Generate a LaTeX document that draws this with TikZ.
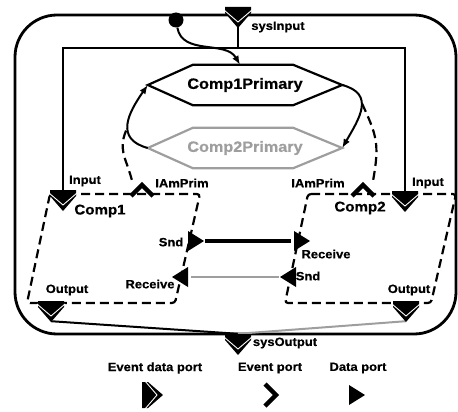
\documentclass[tikz,border=0pt]{standalone}
\usepackage{fontspec}
\setmainfont{Liberation Sans}[FakeStretch=1.08, BoldFeatures={FakeBold=0.6}]
\usetikzlibrary{calc}
\usetikzlibrary{arrows.meta}
\usetikzlibrary{positioning}
\colorlet{grayline}{black!38}

\begin{document}
\begin{tikzpicture}[
  x=1pt, y=-1pt,
  lbl/.style={font=\fontsize{12}{13}\selectfont\bfseries, inner sep=0},
  port/.style={inner sep=0, minimum width=20pt, minimum height=20pt},
  compbox/.style={draw, line width=2.2pt, dash pattern=on 9pt off 5pt, rounded corners=3pt},
  evconn/.style={line width=2.2pt, dash pattern=on 9pt off 5pt},
  trans/.style={line width=2pt, -{Latex[length=9pt,width=7pt]}},
  modestate/.style={minimum width=194pt, minimum height=40pt, inner sep=0,
    font=\fontsize{15}{16}\selectfont\bfseries},
  edport/.pic={
    \fill (-10,-13) -- (-4,-13) -- (11,0) -- (-4,13) -- (-10,13) -- cycle;
    \draw[white, line width=0.9pt] (-7,-14) -- (5,0) -- (-7,14);},
  evport/.pic={\draw[line width=4.5pt, miter limit=10] (-6,-11) -- (5,0) -- (-6,11);},
  dport/.pic={\fill (-7,-10) -- (9,0) -- (-7,10) -- cycle;}]
  \useasboundingbox (0,0) rectangle (458,412);
  % draw system box
  \node[draw, line width=2.8pt, rounded corners=42pt, minimum width=441pt, minimum height=319pt] (sys) at (235.5,174.5) {};
  % draw mode states
  \node[modestate] (c1p) at (245,85) {Comp1Primary};
  \node[modestate, text=grayline] (c2p) at (245,148) {Comp2Primary};
  \foreach \s/\c in {c1p/black, c2p/grayline}
    \draw[line width=2.2pt, \c] (\s.west) -- ([xshift=45pt]\s.north west) -- ([xshift=-49pt]\s.north east)
      -- (\s.east) -- ([xshift=-49pt]\s.south east) -- ([xshift=45pt]\s.south west) -- cycle;
  % draw components
  \draw[compbox] (50,194) -- (200,194) -- (175,303) -- (27,303) -- cycle;
  \draw[compbox] (308,194) -- (456,194) -- (431,303) -- (285,303) -- cycle;
  \node[font=\fontsize{14}{15}\selectfont\bfseries, inner sep=0] (comp1) at (100,211) {Comp1};
  \node[font=\fontsize{14}{15}\selectfont\bfseries, inner sep=0] (comp2) at (360,208) {Comp2};
  % port nodes
  \node[port] (sysin) at (238,17) {};
  \node[port] (sysout) at (238,344) {};
  \node[port] (c1in) at (63,200) {};
  \node[port] (c2in) at (405,201) {};
  \node[port] (c1iam) at (142,190) {};
  \node[port] (c2iam) at (363,190) {};
  \node[port] (c1snd) at (195,241) {};
  \node[port] (c2rcv) at (301,241) {};
  \node[port] (c2snd) at (289,277) {};
  \node[port] (c1rcv) at (181,277) {};
  \node[port] (c1out) at (51,311) {};
  \node[port] (c2out) at (406,311) {};
  % draw bus from system input
  \coordinate (bus) at (0,48);
  \draw[line width=2.2pt] (c1in) -- (c1in |- bus) -- (c2in |- bus) -- (c2in);
  \draw[line width=2.2pt] (sysin) -- (sysin |- bus);
  % draw port connections
  \draw[line width=3.5pt] (c1snd) -- (c2rcv);
  \draw[line width=2.5pt, grayline] (c2snd) -- (c1rcv);
  \draw[line width=2pt] (c1out.south) -- (sysout.north);
  \draw[line width=2pt, grayline] (c2out.south) -- (sysout.north);
  % draw initial transition and mode transitions
  \node[circle, fill, inner sep=0, minimum size=15pt] (init) at (176,20) {};
  \draw[trans] (init) to[out=-80,in=120] ([xshift=-5pt]c1p.north);
  \draw[trans] (c2p.west) to[out=165,in=235,looseness=1.4] node[coordinate,pos=0.45] (t1) {} (c1p.west);
  \draw[trans] (c1p.east) to[out=-15,in=60,looseness=1.4] node[coordinate,pos=0.4] (t2) {} (c2p.east);
  % draw event connections to transitions
  \draw[evconn] (c1iam.north west) to[out=105,in=245,looseness=1.2] (t1);
  \draw[evconn] (c2iam.north east) to[out=80,in=-65,looseness=1.2] (t2);
  % draw ports
  \foreach \p/\r in {sysin/-90, sysout/-90, c1in/-90, c2in/-90, c1out/-90, c2out/-90}
    \pic[rotate=\r] at (\p) {edport};
  \foreach \p in {c1iam, c2iam}
    \pic[rotate=90] at (\p) {evport};
  \foreach \p/\r in {c1snd/0, c2rcv/0, c2snd/180, c1rcv/180}
    \pic[rotate=\r] at (\p) {dport};
  % draw port labels
  \node[lbl] (sysinlbl) at (278,27) {sysInput};
  \node[lbl] (sysoutlbl) at (285,343) {sysOutput};
  \node[lbl] (c1inlbl) at (85,181) {Input};
  \node[lbl] (c2inlbl) at (428,183) {Input};
  \node[lbl] (c1iamlbl) at (182,183) {IAmPrim};
  \node[lbl] (c2iamlbl) at (318,183) {IAmPrim};
  \node[lbl] (c1sndlbl) at (171,242) {Snd};
  \node[lbl] (c2rcvlbl) at (326,254) {Receive};
  \node[lbl] (c2sndlbl) at (308,276) {Snd};
  \node[lbl] (c1rcvlbl) at (150,284) {Receive};
  \node[lbl] (c1outlbl) at (67,290) {Output};
  \node[lbl] (c2outlbl) at (409,290) {Output};
  % draw legend
  \node[lbl] (edleg) at (155,368) {Event data port};
  \node[lbl] (evleg) at (270,368) {Event port};
  \node[lbl] (dleg) at (358,368) {Data port};
  \node[port] (edsym) at (152,395) {};
  \node[port] (evsym) at (271,395) {};
  \node[port] (dsym) at (356,395) {};
  \pic at (edsym) {edport};
  \pic at (evsym) {evport};
  \pic at (dsym) {dport};
\end{tikzpicture}
\end{document}
